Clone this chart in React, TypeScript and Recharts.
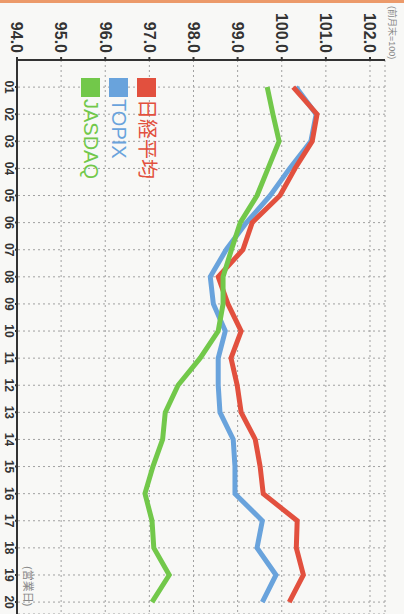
import { CartesianGrid, Line, LineChart, XAxis, YAxis } from 'recharts';

// Trading days shown on the category axis
const days = ['01', '02', '03', '04', '05', '06', '07', '08', '09', '10', '11', '12', '13', '14', '15', '16', '17', '18', '19', '20'];

// Index values (previous month end = 100)
const nikkei = [100.26, 100.8, 100.69, 100.3, 99.96, 99.33, 99.12, 98.56, 98.78, 99.08, 98.85, 98.99, 99.08, 99.4, 99.51, 99.58, 100.35, 100.33, 100.49, 100.17];
const topix = [100.32, 100.78, 100.66, 100.18, 99.74, 99.2, 98.74, 98.38, 98.45, 98.72, 98.56, 98.56, 98.6, 98.9, 98.94, 98.94, 99.56, 99.44, 99.87, 99.56];
const jasdaq = [99.67, 99.8, 99.94, 99.69, 99.44, 99.06, 98.86, 98.67, 98.67, 98.56, 98.15, 97.65, 97.36, 97.3, 97.08, 96.9, 97.06, 97.1, 97.45, 97.06];

const valueTicks = [94, 95, 96, 97, 98, 99, 100, 101, 102];

// Legend order (top to bottom)
const series = [
  { key: 'nikkei', name: '日経平均', color: '#e2503e' },
  { key: 'topix', name: 'TOPIX', color: '#69a3dc' },
  { key: 'jasdaq', name: 'JASDAQ', color: '#72c84a' },
];

const chartData = days.map((_, i) => ({
  day: i + 1,
  nikkei: nikkei[i],
  topix: topix[i],
  jasdaq: jasdaq[i],
}));

const FONT = '"Liberation Sans", Arial, "Noto Sans CJK JP", sans-serif';

export default function App() {
  return (
    <div style={{ position: 'fixed', left: 0, top: 0, width: 404, height: 614, overflow: 'hidden', background: '#f8f8f6' }}>
      {/* chart drawn landscape, then turned 90deg clockwise like the scanned page */}
      <div
        style={{
          position: 'absolute',
          left: 0,
          top: 0,
          width: 614,
          height: 404,
          transformOrigin: '0 0',
          transform: 'translate(404px, 0) rotate(90deg)',
          fontFamily: FONT,
        }}
      >
        <div style={{ position: 'absolute', left: 0, top: 0, width: 3, height: 404, background: '#ec9a6a' }} />
        <div style={{ position: 'absolute', left: 6, top: 5, fontSize: 9, color: '#888', whiteSpace: 'nowrap' }}>(前月末=100)</div>
        <div style={{ position: 'absolute', left: 566, top: 367, fontSize: 11, color: '#888', whiteSpace: 'nowrap' }}>(営業日)</div>
        <LineChart width={614} height={404} data={chartData} margin={{ top: 19, right: 0, bottom: 0, left: 0 }}>
          <CartesianGrid stroke="#a0a0a0" strokeDasharray="2 3" />
          <XAxis
            dataKey="day"
            type="number"
            domain={[0, 20.44]}
            ticks={chartData.map((d) => d.day)}
            tickFormatter={(v: number) => days[v - 1]}
            height={17}
            tickSize={2}
            tickMargin={1}
            stroke="#333"
            strokeWidth={2}
            tick={{ fill: '#333', fontSize: 12, fontWeight: 'bold' }}
          />
          <YAxis
            type="number"
            domain={[94, 102.34]}
            ticks={valueTicks}
            tickFormatter={(v: number) => v.toFixed(1)}
            width={60}
            tickSize={3}
            tickMargin={4}
            stroke="#333"
            strokeWidth={2}
            tick={{ fill: '#333', fontSize: 16, fontWeight: 'bold' }}
          />
          <Line dataKey="topix" name="TOPIX" stroke="#69a3dc" strokeWidth={5} dot={false} isAnimationActive={false} />
          <Line dataKey="nikkei" name="日経平均" stroke="#e2503e" strokeWidth={5} dot={false} isAnimationActive={false} />
          <Line dataKey="jasdaq" name="JASDAQ" stroke="#72c84a" strokeWidth={5} dot={false} isAnimationActive={false} />
        </LineChart>
        {/* legend: colored square + colored label */}
        <div style={{ position: 'absolute', left: 78, top: 243 }}>
          {series.map((s) => (
            <div key={s.key} style={{ display: 'flex', alignItems: 'center', height: 28 }}>
              <span style={{ width: 19, height: 19, background: s.color, display: 'inline-block', marginRight: 2 }} />
              <span style={{ color: s.color, fontSize: 20, lineHeight: '20px' }}>{s.name}</span>
            </div>
          ))}
        </div>
      </div>
    </div>
  );
}
